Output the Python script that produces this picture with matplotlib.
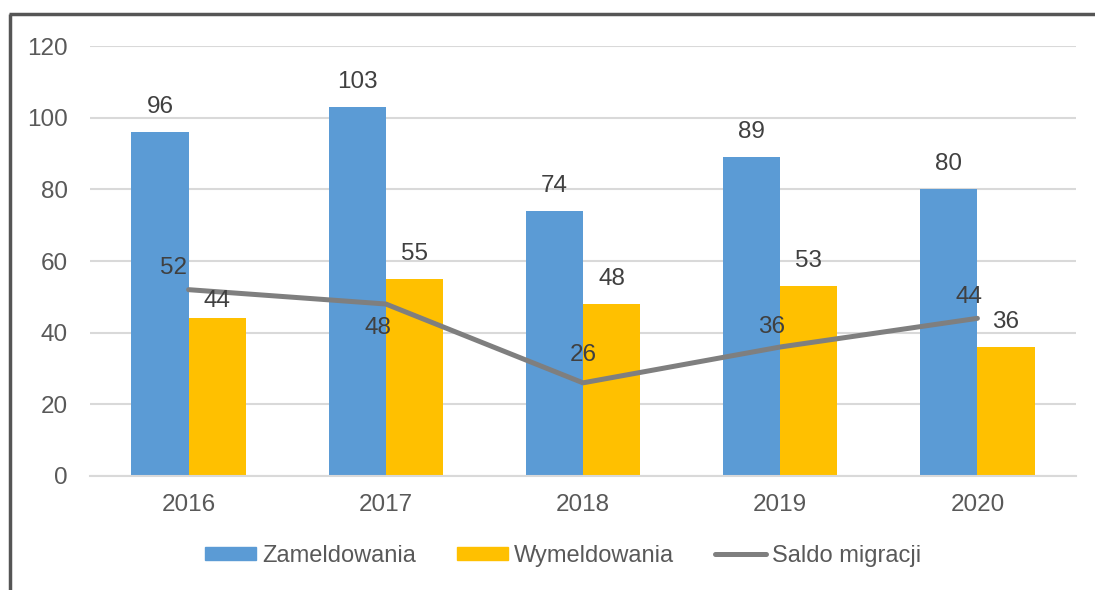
import matplotlib
matplotlib.use("Agg")
import matplotlib.pyplot as plt
import numpy as np
from matplotlib.lines import Line2D

years = ["2016", "2017", "2018", "2019", "2020"]
zameldowania = [96, 103, 74, 89, 80]
wymeldowania = [44, 55, 48, 53, 36]
saldo = [52, 48, 26, 36, 44]
series_names = ["Zameldowania", "Wymeldowania", "Saldo migracji"]

plt.rcParams['font.family'] = ['Liberation Sans', 'DejaVu Sans']

BLUE = "#5b9bd5"
YELLOW = "#ffc000"
GRAY = "#7f7f7f"
TXT = "#595959"
LBL = "#404040"
FS = 17.5

W, H = 1095, 590
fig = plt.figure(figsize=(W / 100, H / 100), dpi=100)
ax = fig.add_axes([90 / W, 1 - 476 / H, (1076 - 90) / W, (476 - 46) / H])

x = np.arange(len(years))
bw = 0.29
ax.bar(x - bw / 2, zameldowania, bw, color=BLUE, zorder=2, label=series_names[0])
ax.bar(x + bw / 2, wymeldowania, bw, color=YELLOW, zorder=2, label=series_names[1])
ax.plot(x, saldo, color=GRAY, lw=3.6, solid_capstyle='round', zorder=3, label=series_names[2])

ax.set_xlim(-0.5, len(years) - 0.5)
ax.set_ylim(0, 120)
ax.set_yticks(np.arange(0, 121, 20))
ax.set_xticks(x)
ax.set_xticklabels(years)
ax.grid(axis='y', color='#d9d9d9', lw=1.5, zorder=0)
ax.set_axisbelow(True)
for s in ['top', 'right', 'left']:
    ax.spines[s].set_visible(False)
ax.spines['bottom'].set_color('#d9d9d9')
ax.spines['bottom'].set_linewidth(1.5)
ax.tick_params(axis='both', length=0, labelsize=FS, labelcolor=TXT)
ax.tick_params(axis='x', pad=13)
ax.tick_params(axis='y', pad=16)

# bar labels (offset in pixels above bar top to text centre)
for i, v in enumerate(zameldowania):
    ax.annotate(str(v), (x[i] - bw / 2, v), xytext=(0, 25), textcoords='offset pixels',
                ha='center', va='center', fontsize=FS, color=LBL, zorder=5)
for i, v in enumerate(wymeldowania):
    dy = 17 if i == 0 else 25
    ax.annotate(str(v), (x[i] + bw / 2, v), xytext=(0, dy), textcoords='offset pixels',
                ha='center', va='center', fontsize=FS, color=LBL, zorder=5)
line_offsets = [(-15, 22), (-8, -24), (0, 28), (-9, 20), (-8, 21)]
for i, v in enumerate(saldo):
    ax.annotate(str(v), (x[i], v), xytext=line_offsets[i], textcoords='offset pixels',
                ha='center', va='center', fontsize=FS, color=LBL, zorder=5)

handles = [plt.Rectangle((0, 0), 1, 1, color=BLUE),
           plt.Rectangle((0, 0), 1, 1, color=YELLOW),
           Line2D([0], [0], color=GRAY, lw=3.6, solid_capstyle='round')]
leg = fig.legend(handles, series_names, loc='center', bbox_to_anchor=(563 / W, 1 - 556 / H),
                 ncol=3, frameon=False, fontsize=17, handlelength=2.15, handleheight=0.5,
                 handletextpad=0.25, columnspacing=1.75, labelcolor=TXT)

# outer frame (left and top edges visible)
fig.add_artist(Line2D([10 / W, 10 / W], [0, 1 - 14 / H], transform=fig.transFigure,
                      color='#555555', lw=2.5, solid_capstyle='butt'))
fig.add_artist(Line2D([9 / W, 1], [1 - 14 / H, 1 - 14 / H], transform=fig.transFigure,
                      color='#555555', lw=2.5, solid_capstyle='butt'))

fig.savefig("out.png", dpi=100)
